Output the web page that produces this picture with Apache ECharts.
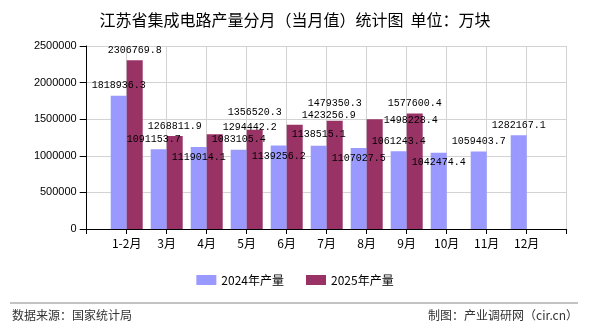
<!DOCTYPE html>
<html>
<head>
<meta charset="utf-8">
<script src="https://cdn.jsdelivr.net/npm/echarts@6/dist/echarts.min.js"></script>
<style>html,body{margin:0;padding:0;background:#fff;}#c{width:590px;height:330px;}</style>
</head>
<body>
<div id="c"></div>
<script>
var titleText = '江苏省集成电路产量分月（当月值）统计图  单位：万块';
var categories = ['1-2月','3月','4月','5月','6月','7月','8月','9月','10月','11月','12月'];
var seriesNames = ['2024年产量','2025年产量'];
var values2024 = [1818936.3,1091153.7,1119014.1,1083105.4,1139256.2,1138515.1,1107027.5,1061243.4,1042474.4,1059403.7,1282167.1];
var values2025 = [2306769.8,1268811.9,1294442.2,1356520.3,1423256.9,1479350.3,1498228.4,1577600.4];
var yTicks = {min:0, max:2500000, interval:500000};
var sourceText = '数据来源：国家统计局';
var creditText = '制图：产业调研网（cir.cn）';

// label nudges (style only)
var offs2024 = [[0,0],[-5,0],[0,20],[0,0],[0,21],[0,-1],[0,20],[0,0],[0,20],[0,0],[0,0]];
var offs2025 = [[0,0],[0,0],[35,3],[0,-7],[34,1],[0,-7],[36,11],[0,0]];

function build(vals, offs){
  var out = [null];
  for (var i=0;i<categories.length;i++){
    if (i < vals.length) out.push({value: vals[i], label:{offset: offs[i]}});
    else out.push(null);
  }
  out.push(null);
  return out;
}
var axisData = [''].concat(categories).concat(['']);

var chart = echarts.init(document.getElementById('c'));
var labelStyle = {show:true, position:'top', distance:5, color:'#000', fontFamily:'Liberation Mono', fontSize:10,
  formatter:function(p){return p.value==null?'':p.value.toFixed(1);}};
chart.setOption({
  animation:false,
  title:{text:titleText, left:'center', top:7, textStyle:{fontFamily:'Noto Sans CJK SC', fontSize:16, fontWeight:'normal', color:'#000'}},
  grid:{left:86.7, right:23.3, top:46, bottom:101},
  legend:{top:269, left:'center', itemWidth:20, itemHeight:10, itemGap:22, icon:'rect',
    textStyle:{fontFamily:'Noto Sans CJK SC', fontSize:12, color:'#000'}, data:seriesNames},
  xAxis:{type:'category', data:axisData, boundaryGap:false,
    axisLine:{lineStyle:{color:'#000'}}, axisTick:{length:5, lineStyle:{color:'#000'}},
    axisLabel:{interval:0, margin:8, color:'#000', fontFamily:'Noto Sans CJK SC', fontSize:12},
    splitLine:{show:true, lineStyle:{color:'#d3d3d3'}}},
  yAxis:{type:'value', min:yTicks.min, max:yTicks.max, interval:yTicks.interval,
    axisLine:{show:true, lineStyle:{color:'#000'}}, axisTick:{show:true, length:7, lineStyle:{color:'#000'}},
    axisLabel:{margin:10, color:'#000', fontFamily:'Liberation Sans', fontSize:11, formatter:function(v){return String(v);}},
    splitLine:{show:true, lineStyle:{color:'#d3d3d3'}}},
  series:[
    {name:seriesNames[0], type:'bar', barWidth:16, barGap:'0%', itemStyle:{color:'#9999FF'}, label:labelStyle, data:build(values2024, offs2024)},
    {name:seriesNames[1], type:'bar', barWidth:16, barGap:'0%', itemStyle:{color:'#993366'}, label:labelStyle, data:build(values2025, offs2025)}
  ],
  graphic:[
    {type:'line', shape:{x1:10,y1:303,x2:578,y2:303}, style:{stroke:'#888', lineWidth:1}},
    {type:'text', left:12, top:309, style:{text:sourceText, font:'12px "Noto Sans CJK SC"', fill:'#333'}},
    {type:'text', right:12, top:309, style:{text:creditText, font:'12px "Noto Sans CJK SC"', fill:'#333'}}
  ]
});
</script>
</body>
</html>
